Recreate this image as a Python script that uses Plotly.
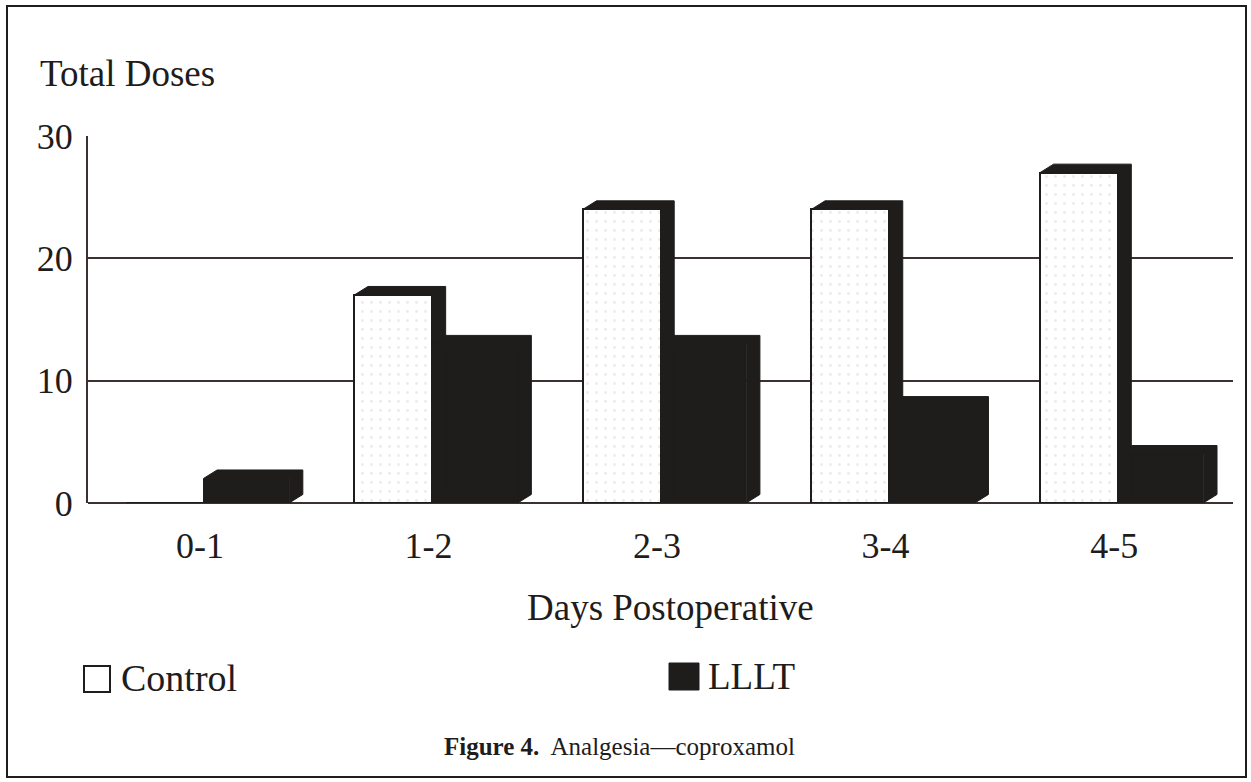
import plotly.graph_objects as go

# Total coproxamol doses per postoperative day interval
days = ["0-1", "1-2", "2-3", "3-4", "4-5"]
control = [0, 17, 24, 24, 27]
lllt = [2, 13, 13, 8, 4]
y_ticks = [0, 10, 20, 30]

INK = "#1f1c1c"
GRID = "#3d3030"
FONT = "Liberation Serif"

# Figure geometry (pixels)
W, H = 1251, 782
ML, MR, MT, MB = 88, 18, 136, 279
PW, PH = W - ML - MR, H - MT - MB


def px(p):
    return (p - ML) / PW


def py(p):
    return (H - MB - p) / PH


# Pseudo-3D bar geometry in data units
SPLIT = 0.015      # boundary between the two bars of a group
W_CTRL = 0.34
W_LLLT = 0.375
DX, DY = 0.06, 0.7  # receding depth of the top and side faces

idx = list(range(len(days)))
ctrl_x = [k + SPLIT - W_CTRL / 2 for k in idx]
lllt_x = [k + SPLIT + W_LLLT / 2 for k in idx]


def depth_faces(centers, width, values):
    """Top + right side faces of each bar, as one polygon per bar."""
    xs, ys = [], []
    for c, v in zip(centers, values):
        if v <= 0:
            continue
        x0, x1 = c - width / 2, c + width / 2
        xs += [x0, x0 + DX, x1 + DX, x1 + DX, x1, x1, x0, None]
        ys += [v, v + DY, v + DY, DY, 0, v, v, None]
    return xs, ys


fig = go.Figure()

cx, cy = depth_faces(ctrl_x, W_CTRL, control)
fig.add_trace(go.Scatter(x=cx, y=cy, mode="lines", fill="toself",
                         fillcolor=INK, line=dict(color=INK, width=1),
                         hoverinfo="skip", showlegend=False))
lx, ly = depth_faces(lllt_x, W_LLLT, lllt)
fig.add_trace(go.Scatter(x=lx, y=ly, mode="lines", fill="toself",
                         fillcolor=INK, line=dict(color=INK, width=1),
                         hoverinfo="skip", showlegend=False))

fig.add_trace(go.Bar(
    x=ctrl_x, y=control, width=W_CTRL, name="Control",
    marker=dict(color="white", line=dict(color=INK, width=2),
                pattern=dict(shape=".", fgcolor="#d8d8d8", size=9, solidity=0.08)),
    showlegend=False))
fig.add_trace(go.Bar(
    x=lllt_x, y=lllt, width=W_LLLT, name="LLLT",
    marker=dict(color=INK, line=dict(color=INK, width=0)),
    showlegend=False))

annotations = [
    dict(text="Total Doses", x=px(38), y=py(73), xanchor="left", yanchor="middle",
         font=dict(size=37)),
    dict(text="Days Postoperative", x=px(670), y=py(607), xanchor="center",
         yanchor="middle", font=dict(size=37)),
    dict(text="Control", x=px(119), y=py(678), xanchor="left", yanchor="middle",
         font=dict(size=38)),
    dict(text="LLLT", x=px(706), y=py(676), xanchor="left", yanchor="middle",
         font=dict(size=37)),
    dict(text="<b>Figure 4.</b>  Analgesia\u2014coproxamol", x=px(619), y=py(746),
         xanchor="center", yanchor="middle", font=dict(size=25)),
]
for a in annotations:
    a.update(xref="paper", yref="paper", showarrow=False)
    a["font"].update(family=FONT, color=INK)

shapes = [
    # legend keys
    dict(type="rect", x0=px(84), x1=px(110), y0=py(692), y1=py(666),
         line=dict(color=INK, width=2), fillcolor="white"),
    dict(type="rect", x0=px(669), x1=px(699), y0=py(690), y1=py(663),
         line=dict(color=INK, width=1), fillcolor=INK),
    # outer frame
    dict(type="rect", x0=px(7), x1=px(1246), y0=py(777), y1=py(6),
         line=dict(color=INK, width=2), fillcolor="rgba(0,0,0,0)", layer="above"),
]
for s in shapes:
    s.update(xref="paper", yref="paper")

fig.update_layout(
    width=W, height=H, autosize=False,
    margin=dict(l=ML, r=MR, t=MT, b=MB),
    paper_bgcolor="white", plot_bgcolor="white",
    barmode="overlay", bargap=0,
    font=dict(family=FONT, color=INK),
    annotations=annotations, shapes=shapes,
    xaxis=dict(range=[-0.49, 4.52], tickvals=idx, ticktext=days,
               showgrid=False, zeroline=False, showline=False, ticks="",
               tickfont=dict(size=36, family=FONT, color=INK),
               ticklabelstandoff=18, fixedrange=True),
    yaxis=dict(range=[0, 30], tickvals=y_ticks, showgrid=True,
               gridcolor=GRID, gridwidth=1.6, zeroline=True, zerolinecolor=GRID,
               zerolinewidth=2, showline=True, linecolor=GRID, linewidth=2,
               ticks="", ticklabelstandoff=6,
               tickfont=dict(size=36, family=FONT, color=INK), fixedrange=True),
)

fig.write_html("out.html")
